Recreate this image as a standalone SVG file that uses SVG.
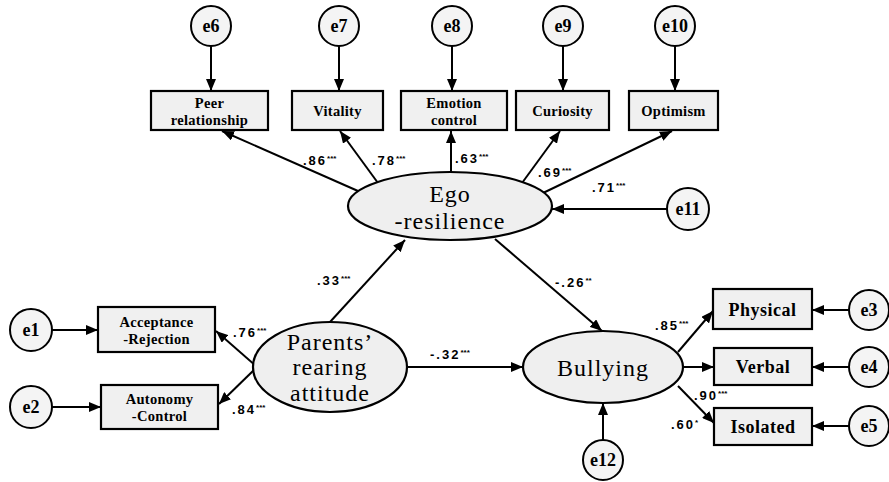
<svg xmlns="http://www.w3.org/2000/svg" width="889" height="482" viewBox="0 0 889 482">
<style>
.box{fill:#f0f0f0;stroke:#000;stroke-width:2.2}
.ell{fill:#efefef;stroke:#000;stroke-width:2.2}
.cir{fill:#f4f4f4;stroke:#000;stroke-width:2}
.ln{stroke:#000;stroke-width:2;fill:none}
.bt{font-family:"Liberation Serif",serif;font-weight:bold;font-size:14.5px;letter-spacing:0.3px;text-anchor:middle;fill:#000}
.bt2{font-family:"Liberation Serif",serif;font-weight:bold;font-size:18px;letter-spacing:0.5px;text-anchor:middle;fill:#000}
.et{font-family:"Liberation Serif",serif;font-size:24px;letter-spacing:1px;text-anchor:middle;fill:#000}
.ct{font-family:"Liberation Serif",serif;font-weight:bold;font-size:18px;text-anchor:middle;fill:#000}
.lb{font-family:"Liberation Sans",sans-serif;font-weight:bold;font-size:13px;letter-spacing:2px;fill:#000}
.st{font-size:8px;letter-spacing:0}
</style>
<defs>
<marker id="ar" markerUnits="userSpaceOnUse" markerWidth="12" markerHeight="10" refX="12" refY="5" orient="auto">
<path d="M0,0 L12,5 L0,10 z" fill="#000"/>
</marker>
</defs>
<rect width="889" height="482" fill="#fff"/>
<g id="connectors">
<line class="ln" x1="211" y1="46" x2="211" y2="91" marker-end="url(#ar)"/>
<line class="ln" x1="339" y1="46" x2="339" y2="91" marker-end="url(#ar)"/>
<line class="ln" x1="452" y1="46" x2="452" y2="91" marker-end="url(#ar)"/>
<line class="ln" x1="563" y1="46" x2="563" y2="91" marker-end="url(#ar)"/>
<line class="ln" x1="675" y1="46" x2="675" y2="91" marker-end="url(#ar)"/>
<line class="ln" x1="358" y1="191" x2="222" y2="131" marker-end="url(#ar)"/>
<line class="ln" x1="378" y1="183" x2="340" y2="131" marker-end="url(#ar)"/>
<line class="ln" x1="451" y1="172" x2="451" y2="131" marker-end="url(#ar)"/>
<line class="ln" x1="522" y1="183" x2="560" y2="131" marker-end="url(#ar)"/>
<line class="ln" x1="543" y1="193" x2="672" y2="131" marker-end="url(#ar)"/>
<line class="ln" x1="667" y1="209" x2="552" y2="209" marker-end="url(#ar)"/>
<line class="ln" x1="52" y1="330" x2="98" y2="330" marker-end="url(#ar)"/>
<line class="ln" x1="52" y1="407" x2="101" y2="407" marker-end="url(#ar)"/>
<line class="ln" x1="256" y1="366" x2="216" y2="331" marker-end="url(#ar)"/>
<line class="ln" x1="256" y1="368" x2="219" y2="404" marker-end="url(#ar)"/>
<line class="ln" x1="330" y1="322" x2="405" y2="240" marker-end="url(#ar)"/>
<line class="ln" x1="407" y1="367" x2="523" y2="367" marker-end="url(#ar)"/>
<line class="ln" x1="495" y1="239" x2="602" y2="331" marker-end="url(#ar)"/>
<line class="ln" x1="603" y1="440" x2="603" y2="403" marker-end="url(#ar)"/>
<line class="ln" x1="678" y1="352" x2="713" y2="311" marker-end="url(#ar)"/>
<line class="ln" x1="683" y1="367" x2="714" y2="367" marker-end="url(#ar)"/>
<line class="ln" x1="678" y1="386" x2="714" y2="423" marker-end="url(#ar)"/>
<line class="ln" x1="849" y1="310" x2="812" y2="310" marker-end="url(#ar)"/>
<line class="ln" x1="849" y1="367" x2="812" y2="367" marker-end="url(#ar)"/>
<line class="ln" x1="849" y1="426" x2="812" y2="426" marker-end="url(#ar)"/>
<text class="lb" x="303" y="165">.86<tspan class="st" dy="-4">***</tspan></text>
<text class="lb" x="372" y="165">.78<tspan class="st" dy="-4">***</tspan></text>
<text class="lb" x="455" y="163">.63<tspan class="st" dy="-4">***</tspan></text>
<text class="lb" x="538" y="177">.69<tspan class="st" dy="-4">***</tspan></text>
<text class="lb" x="592" y="192">.71<tspan class="st" dy="-4">***</tspan></text>
<text class="lb" x="317" y="285">.33<tspan class="st" dy="-4">***</tspan></text>
<text class="lb" x="555" y="287">-.26<tspan class="st" dy="-4">**</tspan></text>
<text class="lb" x="430" y="359">-.32<tspan class="st" dy="-4">***</tspan></text>
<text class="lb" x="233" y="337">.76<tspan class="st" dy="-4">***</tspan></text>
<text class="lb" x="232" y="414">.84<tspan class="st" dy="-4">***</tspan></text>
<text class="lb" x="655" y="330">.85<tspan class="st" dy="-4">***</tspan></text>
<text class="lb" x="694" y="400">.90<tspan class="st" dy="-4">***</tspan></text>
<text class="lb" x="671" y="429">.60<tspan class="st" dy="-4">*</tspan></text>
</g>
<g id="e6"><circle class="cir" cx="211" cy="26" r="20"/><text class="ct" x="211" y="32">e6</text></g>
<g id="e7"><circle class="cir" cx="339" cy="26" r="20"/><text class="ct" x="339" y="32">e7</text></g>
<g id="e8"><circle class="cir" cx="452" cy="26" r="20"/><text class="ct" x="452" y="32">e8</text></g>
<g id="e9"><circle class="cir" cx="563" cy="26" r="20"/><text class="ct" x="563" y="32">e9</text></g>
<g id="e10"><circle class="cir" cx="675" cy="26" r="20"/><text class="ct" x="675" y="32">e10</text></g>
<g id="peer"><rect class="box" x="151" y="91" width="117" height="39"/><text class="bt" x="209.5" y="108">Peer</text><text class="bt" x="209.5" y="125">relationship</text></g>
<g id="vitality"><rect class="box" x="292" y="91" width="91" height="39"/><text class="bt" x="337.5" y="116">Vitality</text></g>
<g id="emotion"><rect class="box" x="401" y="91" width="106" height="39"/><text class="bt" x="454" y="108">Emotion</text><text class="bt" x="454" y="125">control</text></g>
<g id="curiosity"><rect class="box" x="516" y="91" width="93" height="39"/><text class="bt" x="562.5" y="116">Curiosity</text></g>
<g id="optimism"><rect class="box" x="629" y="91" width="89" height="39"/><text class="bt" x="673.5" y="116">Optimism</text></g>
<g id="ego"><ellipse class="ell" cx="450" cy="206" rx="102" ry="34"/><text class="et" x="450" y="202">Ego</text><text class="et" x="450" y="229">-resilience</text></g>
<g id="e11"><circle class="cir" cx="688" cy="209" r="21"/><text class="ct" x="688" y="215">e11</text></g>
<g id="parents"><ellipse class="ell" cx="330" cy="367" rx="77" ry="45"/><text class="et" x="330" y="350">Parents’</text><text class="et" x="330" y="375">rearing</text><text class="et" x="330" y="401">attitude</text></g>
<g id="e1"><circle class="cir" cx="31" cy="330" r="21"/><text class="ct" x="31" y="336">e1</text></g>
<g id="e2"><circle class="cir" cx="31" cy="407" r="21"/><text class="ct" x="31" y="413">e2</text></g>
<g id="acceptance"><rect class="box" x="98" y="307" width="117" height="45"/><text class="bt" x="156.5" y="327">Acceptance</text><text class="bt" x="156.5" y="344">-Rejection</text></g>
<g id="autonomy"><rect class="box" x="101" y="385" width="117" height="44"/><text class="bt" x="159.5" y="404">Autonomy</text><text class="bt" x="159.5" y="421">-Control</text></g>
<g id="bullying"><ellipse class="ell" cx="603" cy="367" rx="80" ry="36"/><text class="et" x="603" y="376">Bullying</text></g>
<g id="e12"><circle class="cir" cx="603" cy="460" r="20"/><text class="ct" x="603" y="466">e12</text></g>
<g id="physical"><rect class="box" x="713" y="289" width="99" height="40"/><text class="bt2" x="762.5" y="316">Physical</text></g>
<g id="verbal"><rect class="box" x="714" y="348" width="98" height="37"/><text class="bt2" x="763" y="373">Verbal</text></g>
<g id="isolated"><rect class="box" x="714" y="408" width="98" height="37"/><text class="bt2" x="763" y="433">Isolated</text></g>
<g id="e3"><circle class="cir" cx="869" cy="310" r="20"/><text class="ct" x="869" y="316">e3</text></g>
<g id="e4"><circle class="cir" cx="869" cy="367" r="20"/><text class="ct" x="869" y="373">e4</text></g>
<g id="e5"><circle class="cir" cx="869" cy="426" r="20"/><text class="ct" x="869" y="432">e5</text></g>
</svg>
